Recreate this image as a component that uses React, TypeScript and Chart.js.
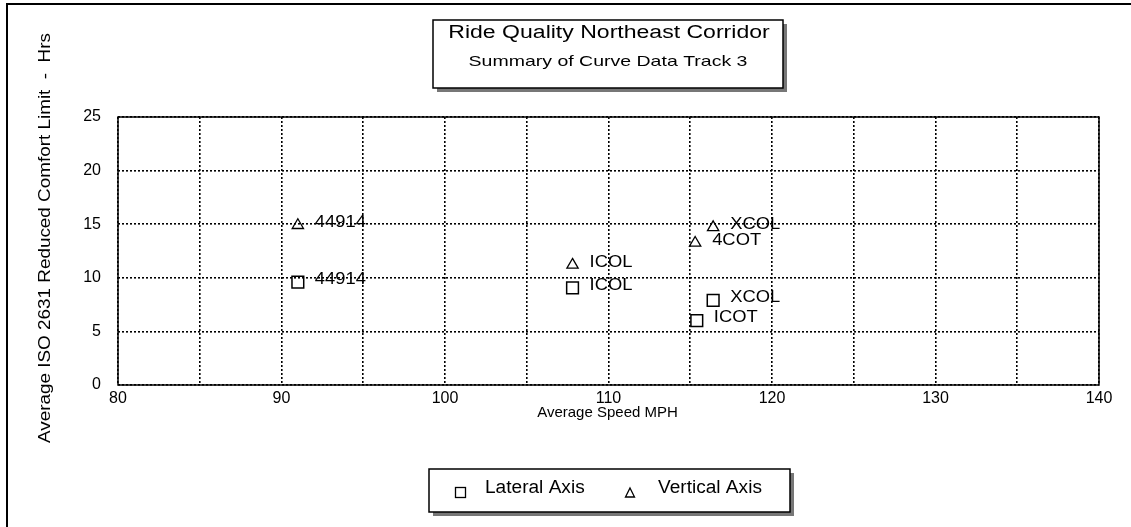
import React, { useEffect, useRef } from 'react';
import { Chart, registerables } from 'chart.js';

Chart.register(...registerables);

const titleText = 'Ride Quality Northeast Corridor';
const subtitleText = 'Summary of Curve Data Track 3';
const xAxisTitle = 'Average Speed MPH';
const yAxisTitle = 'Average ISO 2631 Reduced Comfort Limit  -  Hrs';

const lateralName = 'Lateral Axis';
const lateralLabels = ['44914', 'ICOL', 'XCOL', 'ICOT'];
const lateralSpeed = [91.0, 107.8, 116.4, 115.4];
const lateralHours = [9.6, 9.05, 7.9, 6.0];

const verticalName = 'Vertical Axis';
const verticalLabels = ['44914', 'ICOL', '4COT', 'XCOL'];
const verticalSpeed = [91.0, 107.8, 115.3, 116.4];
const verticalHours = [14.9, 11.2, 13.25, 14.7];

const xMin = 80, xMax = 140, xStep = 5, xLabelStep = 10;
const yMin = 0, yMax = 25, yStep = 5;

const FONT = "'Liberation Sans', Arial, sans-serif";

const decorPlugin = {
  id: 'decor',
  afterDraw(chart: any) {
    const ctx = chart.ctx as CanvasRenderingContext2D;
    const a = chart.chartArea;
    ctx.save();

    // outer frame lines (left & top)
    ctx.strokeStyle = '#000';
    ctx.lineWidth = 2;
    ctx.beginPath();
    ctx.moveTo(7, 527);
    ctx.lineTo(7, 4);
    ctx.lineTo(1131, 4);
    ctx.stroke();

    // plot border
    ctx.lineWidth = 1.5;
    ctx.strokeRect(a.left, a.top, a.right - a.left, a.bottom - a.top);

    const drawBox = (x: number, y: number, w: number, h: number) => {
      ctx.fillStyle = '#777';
      ctx.fillRect(x + 4, y + h, w, 4);
      ctx.fillRect(x + w, y + 4, 4, h);
      ctx.fillStyle = '#fff';
      ctx.fillRect(x, y, w, h);
      ctx.strokeStyle = '#000';
      ctx.lineWidth = 1.5;
      ctx.strokeRect(x, y, w, h);
    };
    const stretchText = (t: string, x: number, y: number, size: number, sx: number, align: CanvasTextAlign) => {
      ctx.save();
      ctx.translate(x, y);
      ctx.scale(sx, 1);
      ctx.font = `${size}px ${FONT}`;
      ctx.fillStyle = '#000';
      ctx.textAlign = align;
      ctx.textBaseline = 'middle';
      ctx.fillText(t, 0, 0);
      ctx.restore();
    };

    // title box
    drawBox(433, 20, 350, 68);
    stretchText(titleText, 609, 33, 18, 1.28, 'center');
    stretchText(subtitleText, 608, 62, 15, 1.3, 'center');

    // axis titles
    stretchText(xAxisTitle, (a.left + a.right) / 2 - 1, 413, 15, 1.0, 'center');
    ctx.save();
    ctx.translate(46, 238);
    ctx.rotate(-Math.PI / 2);
    ctx.scale(1.18, 1);
    ctx.font = `16px ${FONT}`;
    ctx.fillStyle = '#000';
    ctx.textAlign = 'center';
    ctx.textBaseline = 'middle';
    ctx.fillText(yAxisTitle, 0, 0);
    ctx.restore();

    // point labels
    const allLabels = [lateralLabels, verticalLabels];
    allLabels.forEach((labels, di) => {
      const meta = chart.getDatasetMeta(di);
      meta.data.forEach((pt: any, i: number) => {
        stretchText(labels[i], pt.x + 17, pt.y - 3, 17, 1.08, 'left');
      });
    });

    // legend box
    drawBox(429, 469, 361, 43);
    ctx.strokeStyle = '#000';
    ctx.lineWidth = 1.3;
    ctx.strokeRect(455.5, 487.5, 10, 10);
    ctx.beginPath();
    ctx.moveTo(630, 488);
    ctx.lineTo(634.5, 497);
    ctx.lineTo(625.5, 497);
    ctx.closePath();
    ctx.stroke();
    stretchText(lateralName, 485, 488, 18, 1.06, 'left');
    stretchText(verticalName, 658, 488, 18, 1.06, 'left');

    ctx.restore();
  },
};

export default function App() {
  const ref = useRef<HTMLCanvasElement | null>(null);
  useEffect(() => {
    if (!ref.current) return;
    const chart = new Chart(ref.current, {
      type: 'scatter',
      data: {
        datasets: [
          {
            label: lateralName,
            data: lateralSpeed.map((x, i) => ({ x, y: lateralHours[i] })),
            pointStyle: 'rect',
            pointRadius: 8.3,
            borderColor: '#000',
            backgroundColor: 'rgba(0,0,0,0)',
            borderWidth: 1.5,
          },
          {
            label: verticalName,
            data: verticalSpeed.map((x, i) => ({ x, y: verticalHours[i] })),
            pointStyle: 'triangle',
            pointRadius: 6.5,
            borderColor: '#000',
            backgroundColor: 'rgba(0,0,0,0)',
            borderWidth: 1.3,
          },
        ],
      },
      options: {
        responsive: false,
        animation: false,
        layout: { padding: { left: 0, right: 32, top: 117, bottom: 0 } },
        plugins: {
          legend: { display: false },
          title: { display: false },
          tooltip: { enabled: false },
        },
        scales: {
          x: {
            type: 'linear',
            min: xMin,
            max: xMax,
            afterFit: (s: any) => { s.height = 142; },
            ticks: {
              stepSize: xStep,
              autoSkip: false,
              maxRotation: 0,
              padding: 4,
              color: '#000',
              font: { family: FONT, size: 16 },
              callback: (v: any) => (Number(v) % xLabelStep === 0 ? String(v) : ''),
            },
            grid: {
              color: '#000',
              lineWidth: 1.6,
              drawTicks: false,
            },
            border: { display: false, dash: [2, 2] },
          },
          y: {
            type: 'linear',
            min: yMin,
            max: yMax,
            afterFit: (s: any) => { s.width = 118; },
            ticks: {
              stepSize: yStep,
              padding: 17,
              color: '#000',
              font: { family: FONT, size: 16 },
            },
            grid: {
              color: '#000',
              lineWidth: 1.6,
              drawTicks: false,
            },
            border: { display: false, dash: [2, 2] },
          },
        },
      },
      plugins: [decorPlugin],
    });
    return () => chart.destroy();
  }, []);
  return (
    <div style={{ position: 'fixed', left: 0, top: 0, width: 1131, height: 527, background: '#fff' }}>
      <canvas ref={ref} width={1131} height={527} />
    </div>
  );
}
